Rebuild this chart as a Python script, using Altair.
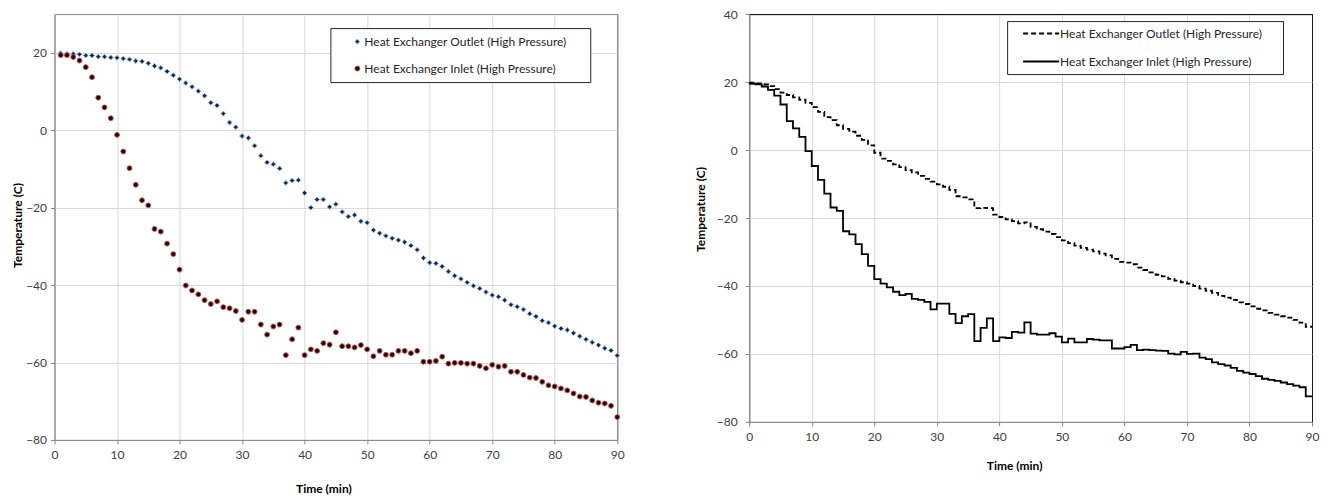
import altair as alt
import pandas as pd

# ---------------- data ----------------
names = ["Heat Exchanger Outlet (High Pressure)", "Heat Exchanger Inlet (High Pressure)"]

# left panel: readings every minute, t = 1..90
time_left = list(range(1, 91))
outlet_left = [19.9, 19.7, 19.7, 19.6, 19.3, 19.3, 19.0, 19.0, 18.8, 18.7,
               18.5, 18.3, 17.9, 17.8, 17.3, 16.6, 16.1, 15.2, 14.2, 13.2,
               12.2, 11.2, 10.1, 8.9, 7.1, 6.4, 4.3, 2.0, 0.8, -1.5,
               -2.0, -4.0, -6.6, -8.3, -8.8, -9.9, -13.6, -13.0, -12.9, -16.2,
               -20.0, -17.9, -17.9, -19.8, -19.1, -21.1, -22.3, -21.9, -23.5, -23.9,
               -25.8, -26.6, -27.3, -27.9, -28.4, -28.9, -29.8, -30.9, -33.0, -34.2,
               -34.4, -35.2, -36.5, -37.6, -38.4, -39.3, -40.2, -40.9, -41.8, -42.6,
               -43.0, -43.9, -45.1, -45.6, -46.3, -47.4, -48.1, -49.2, -49.7, -50.6,
               -51.2, -51.6, -52.4, -53.2, -54.0, -54.8, -55.5, -56.3, -56.9, -58.2]
inlet_left = [19.4, 19.4, 18.9, 18.0, 16.3, 13.7, 8.4, 5.9, 3.1, -1.2,
              -5.5, -9.8, -14.1, -18.1, -19.4, -25.5, -26.2, -29.3, -32.0, -36.0,
              -40.1, -41.4, -42.4, -43.9, -44.9, -44.2, -45.7, -46.0, -46.7, -49.0,
              -46.9, -46.9, -50.2, -52.8, -50.7, -50.2, -58.1, -54.0, -51.0, -58.1,
              -56.6, -57.0, -55.0, -55.4, -52.2, -55.8, -55.8, -56.1, -55.5, -56.6,
              -58.4, -57.0, -58.0, -58.0, -57.0, -57.0, -57.6, -57.0, -59.8, -59.8,
              -59.6, -58.5, -60.3, -60.1, -60.1, -60.3, -60.3, -60.9, -61.5, -60.6,
              -61.1, -60.9, -62.4, -62.4, -63.2, -63.9, -64.0, -65.0, -65.9, -66.2,
              -66.7, -67.2, -68.0, -68.8, -68.9, -69.8, -70.4, -70.6, -71.2, -74.1]

# right panel: step values, t = 0..90 (value holds until the next minute)
time_right = list(range(0, 91))
outlet_right = [19.8, 19.6, 19.3, 18.8, 17.9, 16.9, 16.2, 15.5, 14.8, 13.9,
                12.6, 11.2, 9.7, 8.8, 7.3, 6.2, 5.4, 4.2, 3.0, 1.4,
                -0.8, -2.5, -3.2, -4.2, -5.0, -5.9, -6.6, -7.6, -8.5, -9.3,
                -10.1, -10.8, -11.7, -13.6, -13.9, -14.5, -17.1, -17.0, -17.1, -19.0,
                -19.7, -20.4, -20.9, -21.6, -21.3, -22.6, -23.3, -24.0, -24.7, -25.6,
                -26.6, -27.4, -28.1, -28.8, -29.3, -29.8, -30.5, -31.0, -32.0, -32.9,
                -33.1, -33.6, -34.6, -35.3, -36.0, -36.7, -37.2, -37.9, -38.4, -38.9,
                -39.3, -40.0, -40.8, -41.4, -42.0, -42.9, -43.4, -44.1, -44.8, -45.3,
                -46.0, -46.7, -47.2, -47.9, -48.4, -48.9, -49.3, -50.0, -50.8, -52.0,
                -52.0]
inlet_right = [19.5, 19.3, 18.7, 17.7, 16.0, 13.4, 8.5, 6.4, 3.9, -0.3,
               -4.7, -8.8, -12.8, -16.9, -17.9, -23.9, -24.8, -27.7, -30.6, -34.1,
               -38.0, -39.3, -40.4, -41.7, -42.7, -42.3, -43.8, -44.1, -44.7, -46.9,
               -45.2, -45.2, -48.2, -50.9, -48.9, -48.3, -56.2, -52.3, -49.5, -56.2,
               -55.1, -55.3, -53.5, -53.7, -50.7, -54.0, -54.3, -54.3, -53.9, -54.9,
               -56.6, -55.5, -56.6, -56.6, -55.6, -55.8, -56.0, -56.0, -58.4, -58.4,
               -58.0, -57.3, -58.9, -58.7, -58.9, -59.0, -59.1, -59.9, -60.1, -59.4,
               -60.0, -59.9, -61.1, -61.5, -62.5, -63.0, -63.4, -64.1, -65.0, -65.5,
               -65.9, -66.5, -67.3, -67.6, -67.9, -68.4, -68.9, -69.3, -69.8, -72.5,
               -72.5]

x_ticks = list(range(0, 91, 10))
y_ticks_left = [-80, -60, -40, -20, 0, 20]
y_ticks_right = [-80, -60, -40, -20, 0, 20, 40]

df_left = pd.DataFrame({
    "t": time_left + time_left,
    "v": outlet_left + inlet_left,
    "series": [names[0]] * len(time_left) + [names[1]] * len(time_left),
})
df_right = pd.DataFrame({
    "t": time_right + time_right,
    "v": outlet_right + inlet_right,
    "series": [names[0]] * len(time_right) + [names[1]] * len(time_right),
})

# ---------------- styling ----------------
FONT = "Lato"
GRID = "#d9d9d9"
AXIS = "#868686"
LABEL = "#404040"
NB = "\u00a0"
ZW = "\u200b"

def axis(values, title, label_pad, title_x, title_y, edge_value, edge_color):
    return alt.Axis(
        values=values, title=title, grid=True,
        gridColor=alt.condition(f"datum.value === {edge_value}", alt.value(edge_color), alt.value(GRID)),
        gridWidth=1, domainColor=AXIS, tickColor=AXIS, tickSize=4,
        labelPadding=label_pad, labelFlush=False, labelOverlap=False,
        labelFont=FONT, labelFontSize=12, labelColor=LABEL,
        titleFont=FONT, titleFontSize=12, titleFontWeight="bold", titleColor="black",
        titleX=title_x, titleY=title_y,
    )

W = 563
HL = 426
HR = 408

leg_left = alt.Legend(
    title=None, orient="none", legendX=276, legendY=14, direction="vertical",
    padding=7.5, fillColor="white", strokeColor="#262626",
    symbolOffset=13.5, labelOffset=1, rowPadding=15,
    symbolSize=24, symbolStrokeWidth=1,
    labelFont=FONT, labelFontSize=12, labelColor="#262626", labelLimit=400,
    labelExpr="datum.label + '" + NB * 5 + ZW + "'",
)

left = alt.Chart(df_left).mark_point(filled=True, size=24, strokeWidth=1, opacity=1).encode(
    x=alt.X("t:Q", scale=alt.Scale(domain=[0, 90], nice=False, zero=False),
            axis=axis(x_ticks, "Time (min)", 6, 269, 44, 90, AXIS)),
    y=alt.Y("v:Q", scale=alt.Scale(domain=[-80, 30], nice=False),
            axis=axis(y_ticks_left, "Temperature (C)", 4, -30, 211, 30, AXIS)),
    fill=alt.Fill("series:N", scale=alt.Scale(domain=names, range=["#142447", "#1c0606"]), legend=leg_left),
    stroke=alt.Stroke("series:N", scale=alt.Scale(domain=names, range=["#8eb4e3", "#c0504d"]), legend=leg_left),
    shape=alt.Shape("series:N", scale=alt.Scale(domain=names, range=["diamond", "circle"]), legend=leg_left),
).properties(width=W, height=HL, view=alt.ViewBackground(stroke=AXIS, strokeWidth=1))

leg_right = alt.Legend(
    title=None, orient="none", legendX=258, legendY=7, direction="vertical",
    padding=5, fillColor="white", strokeColor="#262626",
    symbolType="stroke", symbolSize=1296, symbolStrokeWidth=2, symbolStrokeColor="black",
    symbolOffset=10, labelOffset=0, clipHeight=15, rowPadding=13,
    labelFont=FONT, labelFontSize=12, labelColor="#262626", labelLimit=400,
    labelExpr="datum.label + '" + NB * 5 + ZW + "'",
)

right = alt.Chart(df_right).mark_line(interpolate="step-after", color="black", strokeWidth=1.8).encode(
    x=alt.X("t:Q", scale=alt.Scale(domain=[0, 90], nice=False, zero=False),
            axis=axis(x_ticks, "Time (min)", 6, 265, 39, 90, "#1a1a1a")),
    y=alt.Y("v:Q", scale=alt.Scale(domain=[-80, 40], nice=False),
            axis=axis(y_ticks_right, "Temperature (C)", 8, -41.6, 195, 40, "#1a1a1a")),
    strokeDash=alt.StrokeDash("series:N", scale=alt.Scale(domain=names, range=[[5, 3], [1, 0]]), legend=leg_right),
).properties(width=W, height=HR, view=alt.ViewBackground(stroke="#1a1a1a", strokeWidth=1))

chart = alt.hconcat(left, right, spacing=132).resolve_scale(
    fill="independent", stroke="independent", shape="independent", strokeDash="independent"
).resolve_legend(
    fill="independent", stroke="independent", shape="independent", strokeDash="independent"
).properties(
    bounds="flush",
    padding={"left": 2.5, "top": -1, "right": 0, "bottom": 0},
    background="white",
)

chart.save("out.html", embed_options={"renderer": "svg", "actions": False})
